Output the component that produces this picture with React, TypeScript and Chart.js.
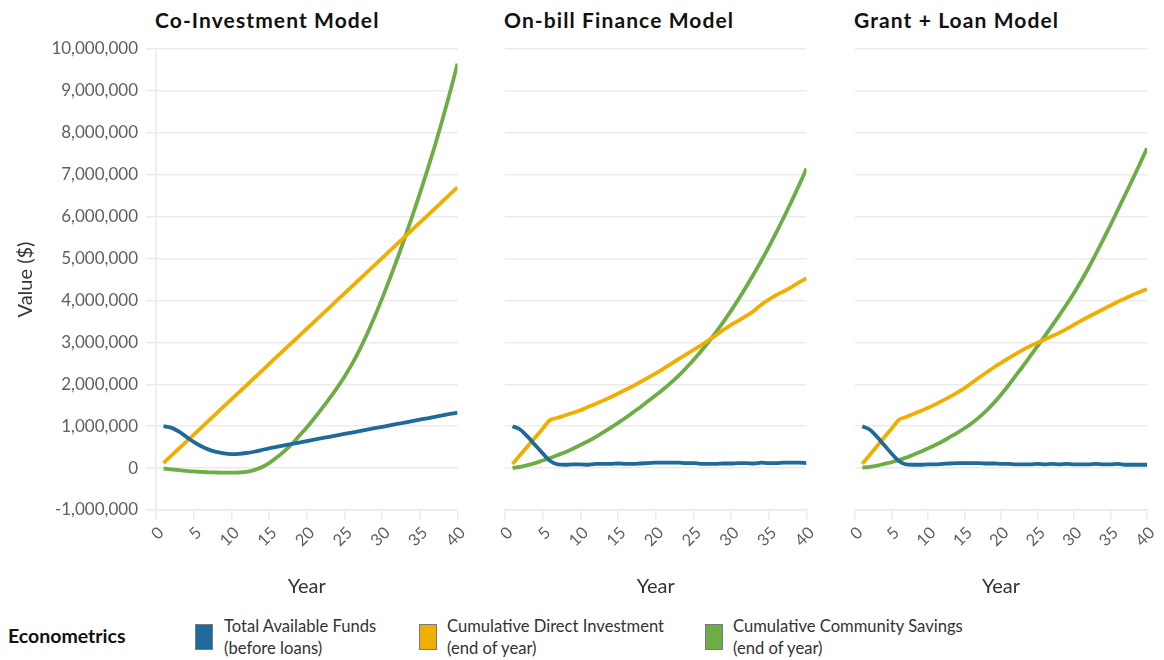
import React, { useEffect, useRef } from 'react';
import { Chart, registerables } from 'chart.js';

Chart.register(...registerables);

const years = [1, 2, 3, 4, 5, 6, 7, 8, 9, 10, 11, 12, 13, 14, 15, 16, 17, 18, 19, 20, 21, 22, 23, 24, 25, 26, 27, 28, 29, 30, 31, 32, 33, 34, 35, 36, 37, 38, 39, 40];

// values in millions of dollars
const coFundsM = [1.0, 0.965, 0.875, 0.75, 0.625, 0.52, 0.44, 0.385, 0.35, 0.335, 0.34, 0.36, 0.39, 0.43, 0.47, 0.505, 0.54, 0.575, 0.61, 0.645, 0.679, 0.713, 0.747, 0.781, 0.815, 0.849, 0.883, 0.917, 0.951, 0.985, 1.019, 1.053, 1.087, 1.121, 1.155, 1.189, 1.223, 1.257, 1.291, 1.325];
const coInvestM = [0.12, 0.289, 0.457, 0.626, 0.795, 0.964, 1.132, 1.301, 1.47, 1.638, 1.807, 1.976, 2.144, 2.313, 2.482, 2.651, 2.819, 2.988, 3.157, 3.325, 3.494, 3.663, 3.831, 4.0, 4.169, 4.338, 4.506, 4.675, 4.844, 5.012, 5.181, 5.35, 5.518, 5.687, 5.856, 6.025, 6.193, 6.362, 6.531, 6.699];
const coSavingsM = [-0.01, -0.03, -0.05, -0.065, -0.08, -0.09, -0.1, -0.105, -0.11, -0.11, -0.105, -0.09, -0.05, 0.02, 0.12, 0.25, 0.4, 0.57, 0.77, 0.97, 1.19, 1.42, 1.66, 1.91, 2.18, 2.48, 2.82, 3.2, 3.61, 4.05, 4.51, 4.99, 5.49, 6.01, 6.55, 7.11, 7.69, 8.31, 8.96, 9.65];

const obFundsM = [1.0, 0.92, 0.75, 0.55, 0.35, 0.17, 0.09, 0.08, 0.09, 0.09, 0.08, 0.1, 0.1, 0.1, 0.11, 0.1, 0.1, 0.11, 0.12, 0.13, 0.13, 0.13, 0.13, 0.12, 0.12, 0.1, 0.1, 0.1, 0.11, 0.11, 0.12, 0.12, 0.11, 0.13, 0.12, 0.12, 0.13, 0.13, 0.13, 0.12];
const obInvestM = [0.1, 0.31, 0.52, 0.73, 0.94, 1.15, 1.2, 1.26, 1.32, 1.38, 1.46, 1.53, 1.61, 1.69, 1.78, 1.87, 1.96, 2.06, 2.16, 2.26, 2.37, 2.48, 2.6, 2.71, 2.82, 2.93, 3.05, 3.17, 3.3, 3.42, 3.52, 3.63, 3.75, 3.9, 4.02, 4.13, 4.22, 4.32, 4.43, 4.53];
const obSavingsM = [0.0, 0.03, 0.07, 0.12, 0.18, 0.24, 0.31, 0.38, 0.46, 0.55, 0.64, 0.74, 0.85, 0.96, 1.08, 1.2, 1.33, 1.46, 1.6, 1.74, 1.88, 2.034, 2.201, 2.382, 2.577, 2.786, 3.008, 3.244, 3.494, 3.757, 4.034, 4.325, 4.63, 4.948, 5.28, 5.626, 5.985, 6.358, 6.745, 7.145];

const glFundsM = [1.0, 0.92, 0.75, 0.55, 0.35, 0.17, 0.09, 0.08, 0.08, 0.09, 0.09, 0.1, 0.11, 0.12, 0.12, 0.12, 0.12, 0.11, 0.11, 0.1, 0.1, 0.09, 0.09, 0.09, 0.1, 0.09, 0.1, 0.09, 0.1, 0.09, 0.09, 0.09, 0.1, 0.09, 0.09, 0.1, 0.08, 0.08, 0.08, 0.08];
const glInvestM = [0.1, 0.31, 0.52, 0.73, 0.94, 1.15, 1.22, 1.29, 1.36, 1.44, 1.52, 1.61, 1.7, 1.8, 1.91, 2.03, 2.16, 2.28, 2.4, 2.51, 2.62, 2.72, 2.82, 2.91, 2.99, 3.07, 3.15, 3.23, 3.32, 3.42, 3.52, 3.61, 3.7, 3.79, 3.88, 3.97, 4.05, 4.13, 4.2, 4.27];
const glSavingsM = [0.01, 0.03, 0.06, 0.1, 0.14, 0.19, 0.25, 0.32, 0.39, 0.47, 0.55, 0.64, 0.74, 0.84, 0.95, 1.07, 1.21, 1.37, 1.55, 1.75, 1.97, 2.2, 2.43, 2.67, 2.91, 3.15, 3.4, 3.65, 3.91, 4.18, 4.47, 4.78, 5.11, 5.45, 5.8, 6.16, 6.52, 6.88, 7.25, 7.63];

const panelTitles = ['Co-Investment Model', 'On-bill Finance Model', 'Grant + Loan Model'];
const seriesNames = ['Total Available Funds', 'Cumulative Direct Investment', 'Cumulative Community Savings'];
const seriesSubNames = ['(before loans)', '(end of year)', '(end of year)'];
const seriesColors = ['#1f6a98', '#f0ae00', '#6cae45'];
const xTicks = [0, 5, 10, 15, 20, 25, 30, 35, 40];
const yMin = -1000000;
const yMax = 10000000;

const panelData = [
  [coFundsM, coInvestM, coSavingsM],
  [obFundsM, obInvestM, obSavingsM],
  [glFundsM, glInvestM, glSavingsM],
];

const W = 1164;
const H = 600;
// chart area horizontal extents for each panel
const areaLeft = [156, 505, 855];
const areaRight = [457.5, 806.5, 1156.5];
const areaTop = 49;
const areaBottom = 510;

const GRID = '#ebebeb';
const TICKC = '#5f5f5f';

function Panel({ idx }: { idx: number }) {
  const ref = useRef<HTMLCanvasElement | null>(null);
  useEffect(() => {
    const canvas = ref.current;
    if (!canvas) return;
    const first = idx === 0;
    const datasets = panelData[idx].map((vals, s) => ({
      label: seriesNames[s],
      data: years.map((yr, i) => ({ x: yr, y: vals[i] * 1000000 })),
      borderColor: seriesColors[s],
      backgroundColor: seriesColors[s],
      borderWidth: 3.8,
      pointRadius: 0,
      fill: false,
      cubicInterpolationMode: 'monotone' as const,
    }));
    const chart = new Chart(canvas, {
      type: 'line',
      data: { datasets },
      options: {
        animation: false,
        responsive: false,
        events: [],
        layout: {
          padding: {
            left: first ? 0 : areaLeft[idx],
            right: W - areaRight[idx],
            top: areaTop,
            bottom: 0,
          },
        },
        plugins: { legend: { display: false }, tooltip: { enabled: false }, title: { display: false } },
        scales: {
          x: {
            type: 'linear',
            min: 0,
            max: 40,
            afterBuildTicks: (scale: any) => {
              scale.ticks = xTicks.map((v) => ({ value: v }));
            },
            afterFit: (scale: any) => {
              scale.height = H - areaBottom;
            },
            ticks: {
              minRotation: 45,
              maxRotation: 45,
              padding: 3,
              labelOffset: 5,
              color: TICKC,
              font: { family: 'Lato', size: 16.5 },
            },
            grid: {
              display: true,
              drawOnChartArea: false,
              drawTicks: true,
              tickLength: 10,
              color: GRID,
              lineWidth: 1.5,
            },
            border: { display: true, color: GRID, width: 1.5 },
            title: {
              display: true,
              text: 'Year',
              color: '#333333',
              font: { family: 'Lato', size: 20 },
              padding: { top: 0, bottom: 1 },
            },
          },
          y: {
            type: 'linear',
            min: yMin,
            max: yMax,
            afterFit: (scale: any) => {
              scale.width = first ? areaLeft[0] : 0;
            },
            ticks: {
              display: first,
              stepSize: 1000000,
              padding: 8,
              color: TICKC,
              font: { family: 'Lato', size: 17 },
              callback: (v: any) => Number(v).toLocaleString('en-US'),
            },
            grid: {
              color: GRID,
              lineWidth: 1.5,
              drawTicks: first,
              tickLength: 10,
            },
            border: { display: first, color: GRID, width: 1.5 },
            title: {
              display: first,
              text: 'Value ($)',
              color: '#333333',
              font: { family: 'Lato', size: 20 },
              padding: { top: 14, bottom: 0 },
            },
          },
        },
      },
    });
    return () => chart.destroy();
  }, [idx]);
  return (
    <canvas
      ref={ref}
      width={W}
      height={H}
      style={{ position: 'absolute', left: 0, top: 0, width: W, height: H }}
    />
  );
}

const titleStyle: React.CSSProperties = {
  position: 'absolute',
  top: 8,
  fontFamily: 'Lato',
  fontWeight: 700,
  fontSize: 21,
  lineHeight: '24px',
  letterSpacing: '1.1px',
  color: '#111111',
  whiteSpace: 'nowrap',
};

const swatchLeft = [195, 419, 705];
const legendTextLeft = [224, 447, 733];

export default function App() {
  return (
    <div style={{ position: 'absolute', left: 0, top: 0, width: W, height: 660, background: '#ffffff', overflow: 'hidden' }}>
      {panelTitles.map((t, i) => (
        <div key={t} style={{ ...titleStyle, left: areaLeft[i] - 1 }}>{t}</div>
      ))}
      {[0, 1, 2].map((i) => (
        <Panel key={i} idx={i} />
      ))}
      <div
        style={{
          position: 'absolute',
          left: 8,
          top: 624,
          fontFamily: 'Lato',
          fontWeight: 700,
          fontSize: 19.5,
          lineHeight: '24px',
          color: '#111111',
        }}
      >
        Econometrics
      </div>
      {seriesNames.map((n, i) => (
        <React.Fragment key={n}>
          <div
            style={{
              position: 'absolute',
              left: swatchLeft[i],
              top: 624,
              width: 18,
              height: 26,
              boxSizing: 'border-box',
              border: '1px solid #7a7a7a',
              background: seriesColors[i],
            }}
          />
          <div
            style={{
              position: 'absolute',
              left: legendTextLeft[i],
              top: 616,
              fontFamily: 'Lato',
              fontSize: 16.6,
              lineHeight: '21.5px',
              color: '#333333',
              whiteSpace: 'nowrap',
            }}
          >
            {n}
            <br />
            {seriesSubNames[i]}
          </div>
        </React.Fragment>
      ))}
    </div>
  );
}
